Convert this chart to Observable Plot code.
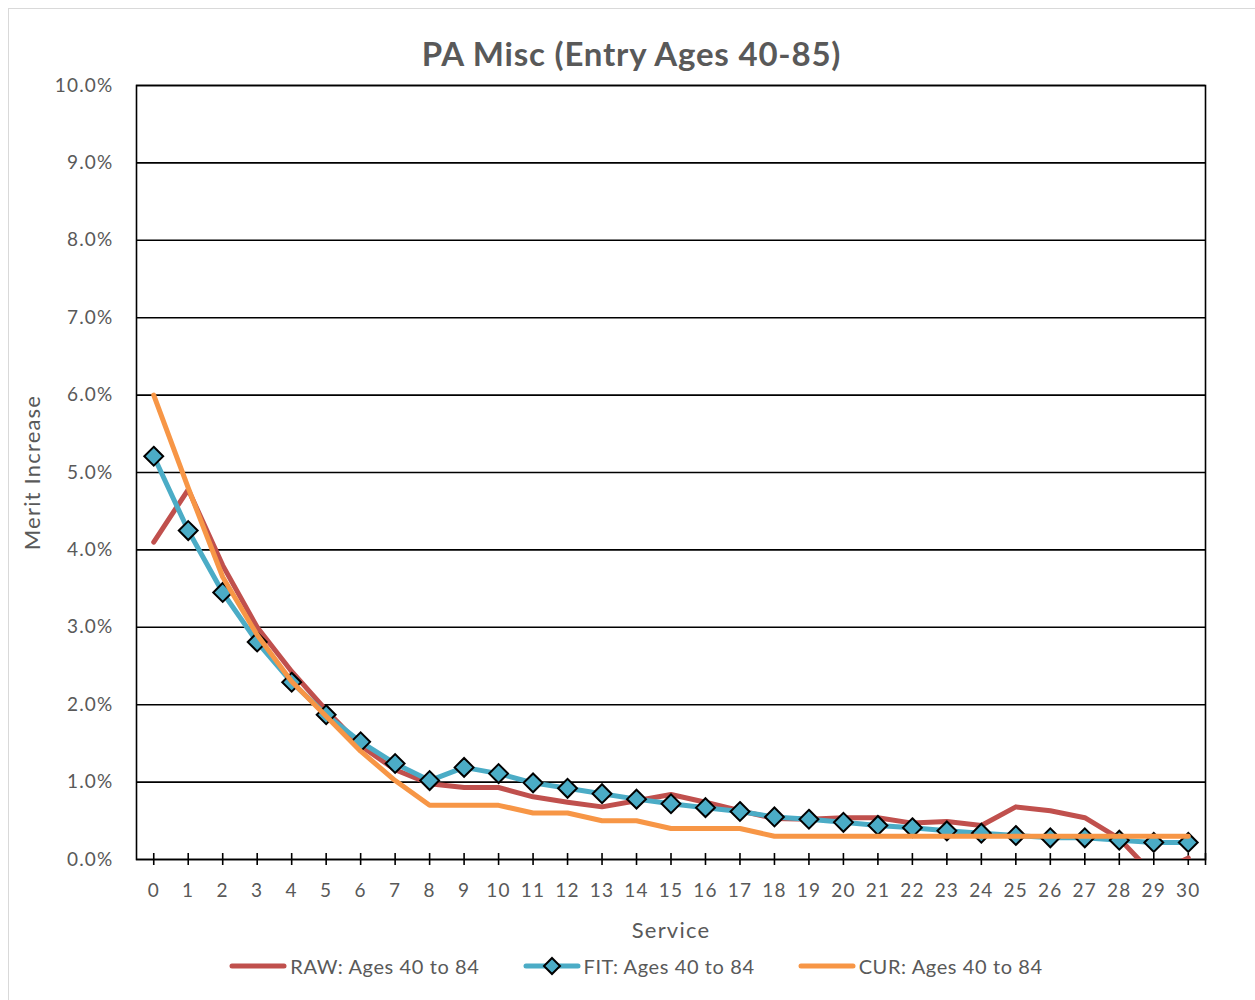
<!DOCTYPE html>
<html>
<head>
<meta charset="utf-8">
<script src="https://cdn.jsdelivr.net/npm/d3@7"></script>
<script src="https://cdn.jsdelivr.net/npm/@observablehq/plot@0.6"></script>
<style>
  html, body { margin: 0; padding: 0; background: #fff; overflow: hidden; }
  #wrap { position: relative; width: 1255px; height: 1000px; font-family: Lato, "Open Sans", sans-serif; color: #595959; }
  #border { position: absolute; left: 8px; top: 8px; width: 1300px; height: 1100px; border: 1px solid #d9d9d9; box-sizing: border-box; }
  #title { position: absolute; left: 8px; width: 1247px; top: 31px; text-align: center; font-size: 33px; letter-spacing: 0.8px; font-weight: 700; line-height: 44px; }
  #chart { position: absolute; left: 0; top: 70px; }
  #legend { position: absolute; left: 0; width: 1272px; top: 952px; display: flex; justify-content: center; align-items: center; gap: 43px; font-size: 20px; letter-spacing: 0.6px; line-height: 28px; }
  .item { display: flex; align-items: center; }
  .item span { margin-left: 3px; }
  #chart svg text { letter-spacing: 1.2px; }
</style>
</head>
<body>
<div id="wrap">
  <div id="border"></div>
  <div id="title">PA Misc (Entry Ages 40-85)</div>
  <div id="chart"></div>
  <div id="legend"></div>
</div>
<script>
// Service years (category axis)
const service = [0,1,2,3,4,5,6,7,8,9,10,11,12,13,14,15,16,17,18,19,20,21,22,23,24,25,26,27,28,29,30];
// Merit increase (%) by series
const raw = [4.1, 4.78, 3.8, 3.0, 2.43, 1.93, 1.47, 1.16, 0.98, 0.93, 0.93, 0.81, 0.74, 0.68, 0.76, 0.84, 0.74, 0.63, 0.53, 0.52, 0.54, 0.54, 0.47, 0.49, 0.44, 0.68, 0.63, 0.54, 0.27, -0.2, 0.02];
const fit = [5.21, 4.25, 3.45, 2.81, 2.29, 1.87, 1.52, 1.24, 1.02, 1.19, 1.11, 0.99, 0.92, 0.85, 0.78, 0.72, 0.67, 0.62, 0.55, 0.52, 0.48, 0.44, 0.41, 0.37, 0.34, 0.31, 0.28, 0.28, 0.25, 0.22, 0.22];
const cur = [6.0, 4.8, 3.65, 2.9, 2.3, 1.85, 1.4, 1.02, 0.7, 0.7, 0.7, 0.6, 0.6, 0.5, 0.5, 0.4, 0.4, 0.4, 0.3, 0.3, 0.3, 0.3, 0.3, 0.3, 0.3, 0.3, 0.3, 0.3, 0.3, 0.3, 0.3];
// Y tick values (%)
const yTicks = [0,1,2,3,4,5,6,7,8,9,10];
const seriesNames = ["RAW: Ages 40 to 84", "FIT: Ages 40 to 84", "CUR: Ages 40 to 84"];
const seriesColors = ["#C0504D", "#4BACC6", "#F79646"];

const rows = (vals) => service.map((s, i) => ({service: s, value: vals[i]}));
const rawRows = rows(raw), fitRows = rows(fit), curRows = rows(cur);
const xTickPositions = service.concat([30.5]);

const lineOpts = {x: "service", y: "value", strokeWidth: 5, strokeLinecap: "round", strokeLinejoin: "round"};

const plot = Plot.plot({
  width: 1255,
  height: 875,
  marginTop: 15,
  marginBottom: 86,
  marginLeft: 136,
  marginRight: 50,
  x: {domain: [-0.5, 30.5]},
  y: {domain: [0, 10]},
  style: {fontFamily: "Lato, 'Open Sans', sans-serif", fontSize: "19px", color: "#595959", background: "transparent", overflow: "visible"},
  marks: [
    Plot.ruleY(yTicks, {y: d => d, stroke: "#000", strokeWidth: 1.6}),
    Plot.frame({stroke: "#000", strokeWidth: 1.6}),
    Plot.axisY(yTicks, {tickSize: 0, tickPadding: 23, tickFormat: d => d.toFixed(1) + "%", label: null}),
    Plot.axisX(service, {tickSize: 0, tickPadding: 24, label: null}),
    Plot.ruleX(xTickPositions, {x: d => d, y1: 0, y2: 0, insetTop: -6, insetBottom: -6, stroke: "#000", strokeWidth: 1.6}),
    Plot.text(["Service"], {frameAnchor: "bottom", textAnchor: "middle", dy: 78, fontSize: 22, fill: "#595959"}),
    Plot.text(["Merit Increase"], {frameAnchor: "left", textAnchor: "middle", dx: -104, rotate: -90, fontSize: 22, fill: "#595959"}),
    Plot.line(rawRows, {...lineOpts, stroke: seriesColors[0], clip: true}),
    Plot.line(fitRows, {...lineOpts, stroke: seriesColors[1]}),
    Plot.dot(fitRows, {x: "service", y: "value", symbol: "diamond2", r: 8.5, fill: seriesColors[1], stroke: "#000", strokeWidth: 2}),
    Plot.line(curRows, {...lineOpts, stroke: seriesColors[2]})
  ]
});
document.getElementById("chart").appendChild(plot);

// Legend
const legend = document.getElementById("legend");
seriesNames.forEach((name, i) => {
  const item = document.createElement("div");
  item.className = "item";
  const marker = i === 1
    ? `<path d="M29,-8 L37,0 L29,8 L21,0 Z" fill="${seriesColors[1]}" stroke="#000" stroke-width="2" transform="translate(0,10)"/>`
    : "";
  item.innerHTML = `<svg width="58" height="20" style="overflow:visible"><line x1="3" y1="10" x2="55" y2="10" stroke="${seriesColors[i]}" stroke-width="5" stroke-linecap="round"/>${marker}</svg><span>${name}</span>`;
  legend.appendChild(item);
});
</script>
</body>
</html>
